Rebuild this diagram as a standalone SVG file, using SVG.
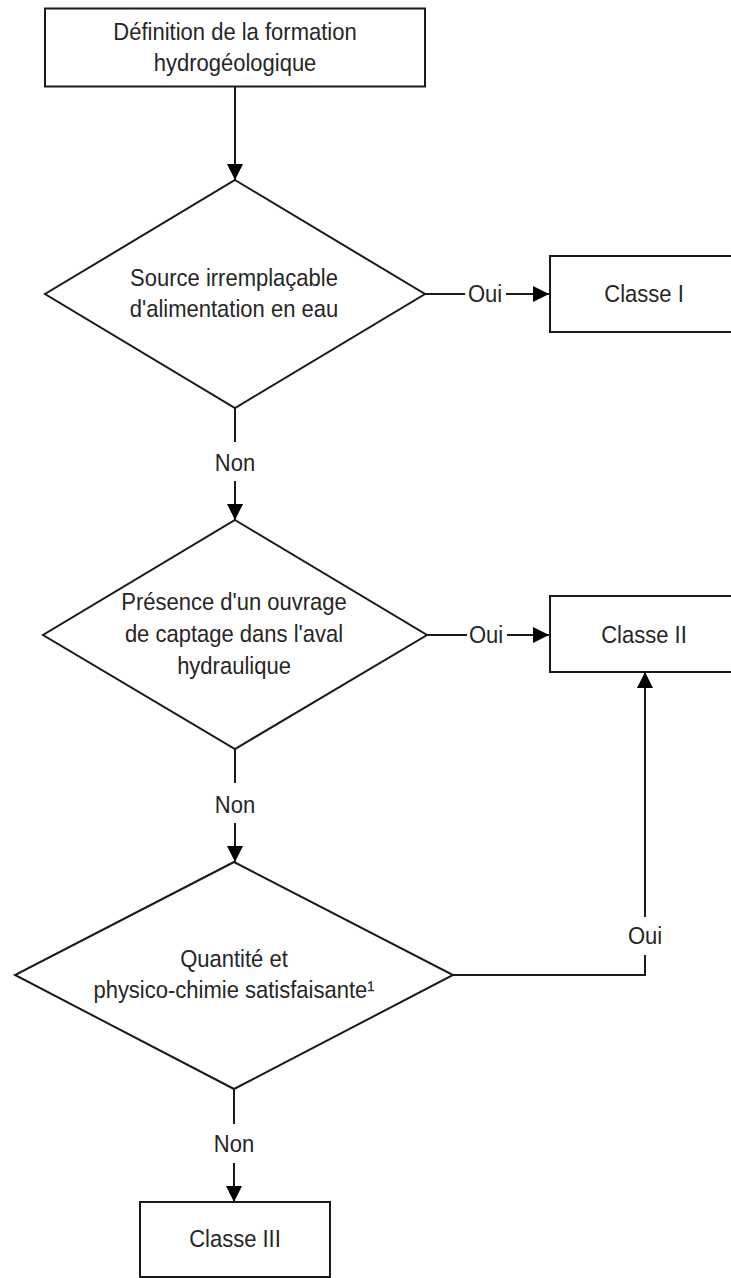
<svg xmlns="http://www.w3.org/2000/svg" width="731" height="1278" viewBox="0 0 731 1278">
<defs>
<style>
.box{fill:#fff;stroke:#1a1a1a;stroke-width:2}
.con{fill:none;stroke:#1a1a1a;stroke-width:2}
text{font-family:"Liberation Sans",Arial,sans-serif;font-size:24px;fill:#262626;text-anchor:middle}
</style>
<marker id="arr" markerUnits="userSpaceOnUse" markerWidth="17" markerHeight="17" refX="16" refY="8" orient="auto">
<path d="M0,0 L16,8 L0,16 Z" fill="#000"/>
</marker>
</defs>
<rect width="731" height="1278" fill="#fff"/>
<g id="connectors">
<line class="con" x1="235" y1="87" x2="235" y2="180" marker-end="url(#arr)"/>
<line class="con" x1="425" y1="294" x2="465" y2="294"/>
<line class="con" x1="506" y1="294" x2="549" y2="294" marker-end="url(#arr)"/>
<text transform="translate(485 301.5) scale(0.917 1)">Oui</text>
<line class="con" x1="235" y1="408" x2="235" y2="442"/>
<text transform="translate(235 471) scale(0.917 1)">Non</text>
<line class="con" x1="235" y1="481" x2="235" y2="520" marker-end="url(#arr)"/>
<line class="con" x1="427" y1="635" x2="467" y2="635"/>
<text transform="translate(486 643) scale(0.917 1)">Oui</text>
<line class="con" x1="507" y1="635" x2="549" y2="635" marker-end="url(#arr)"/>
<line class="con" x1="235" y1="749" x2="235" y2="783"/>
<text transform="translate(235 813) scale(0.917 1)">Non</text>
<line class="con" x1="235" y1="823" x2="235" y2="862" marker-end="url(#arr)"/>
<polyline class="con" points="453,975 645,975 645,955"/>
<text transform="translate(645 944) scale(0.917 1)">Oui</text>
<line class="con" x1="645" y1="917" x2="645" y2="672" marker-end="url(#arr)"/>
<line class="con" x1="234" y1="1089" x2="234" y2="1124"/>
<text transform="translate(234 1152) scale(0.917 1)">Non</text>
<line class="con" x1="234" y1="1163" x2="234" y2="1202" marker-end="url(#arr)"/>
</g>
<g id="n-definition">
<rect class="box" x="45" y="8.5" width="380" height="78"/>
<text transform="translate(235 39.5) scale(0.917 1)">Définition de la formation</text>
<text transform="translate(235 71) scale(0.917 1)">hydrogéologique</text>
</g>
<g id="d-source">
<polygon class="box" points="235,180 425,294 235,408 45,294"/>
<text transform="translate(234 286) scale(0.917 1)">Source irremplaçable</text>
<text transform="translate(234 317) scale(0.917 1)">d'alimentation en eau</text>
</g>
<g id="n-classe1">
<rect class="box" x="550" y="256" width="200" height="76"/>
<text transform="translate(644 302) scale(0.917 1)">Classe I</text>
</g>
<g id="d-ouvrage">
<polygon class="box" points="235,520 427,635 235,749 43,635"/>
<text transform="translate(234 610) scale(0.917 1)">Présence d'un ouvrage</text>
<text transform="translate(234 642) scale(0.917 1)">de captage dans l'aval</text>
<text transform="translate(234 674) scale(0.917 1)">hydraulique</text>
</g>
<g id="n-classe2">
<rect class="box" x="550" y="596" width="200" height="76"/>
<text transform="translate(644 643) scale(0.917 1)">Classe II</text>
</g>
<g id="d-quantite">
<polygon class="box" points="234,862 453,975 234,1089 15,975"/>
<text transform="translate(234 967) scale(0.917 1)">Quantité et</text>
<text transform="translate(234 998) scale(0.917 1)">physico-chimie satisfaisante¹</text>
</g>
<g id="n-classe3">
<rect class="box" x="140" y="1202" width="190" height="75"/>
<text transform="translate(235 1247) scale(0.917 1)">Classe III</text>
</g>
</svg>
